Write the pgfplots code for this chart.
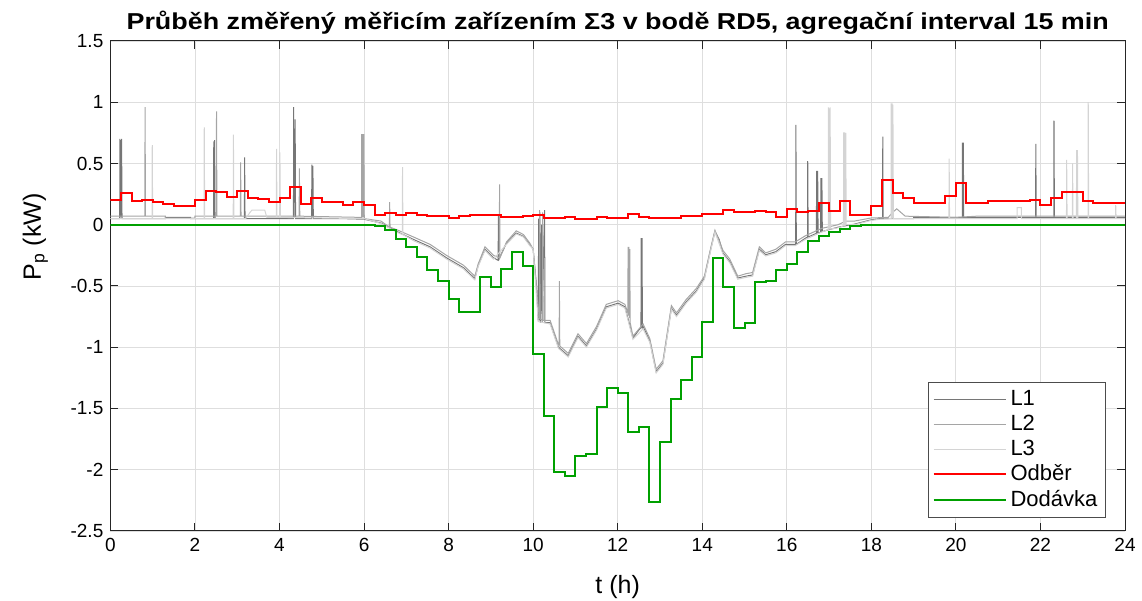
\documentclass[border=0pt]{standalone}
\usepackage{fontspec}
\setmainfont{Liberation Sans}
\usepackage{graphicx}
\usepackage{pgfplots}
\pgfplotsset{compat=1.18}
\definecolor{odber}{RGB}{255,0,0}
\definecolor{dodavka}{RGB}{0,160,0}
\definecolor{lone}{RGB}{118,118,118}
\definecolor{ltwo}{RGB}{165,165,165}
\definecolor{lthree}{RGB}{212,212,212}

\begin{document}
\begin{tikzpicture}
\begin{axis}[name=ax,
 scale only axis,width=507.3pt,height=245pt,
 xmin=0,xmax=24,ymin=-2.5,ymax=1.5,
 xtick={0,2,4,6,8,10,12,14,16,18,20,22,24},
 ytick={-2.5,-2,-1.5,-1,-0.5,0,0.5,1,1.5},
 grid=major,major grid style={black!13,line width=0.45pt},
 axis line style={black!85,line width=0.5pt},
 tick style={black!85,line width=0.5pt},major tick length=4pt,tick align=inside,
 ticklabel style={font=\fontsize{9.5}{11}\selectfont},
 /pgf/number format/assume math mode=true,
 title={\scalebox{1.17}[1]{\bfseries Průběh změřený měřicím zařízením Σ3 v bodě RD5, agregační interval 15 min}},
 title style={font=\fontsize{11.5}{13}\selectfont,at={(axis description cs:0.5,1)},anchor=base,yshift=-0.5pt},
 xlabel={t (h)},
 xlabel style={font=\fontsize{12.5}{14}\selectfont,at={(axis description cs:0.5,-0.115)},anchor=center},
 ylabel={P\textsubscript{p} (kW)},
 ylabel style={font=\fontsize{12.5}{14}\selectfont,at={(axis description cs:-0.074,0.6)},anchor=center},
 legend style={at={(0.981,0.027)},anchor=south east,draw=black!70,fill=white,
   font=\fontsize{11}{13}\selectfont,inner sep=2pt,row sep=-0.8pt},
 legend cell align=left,
 legend image code/.code={\draw[#1] (0pt,0pt) -- (36pt,0pt);},
]
% L1
\addplot[lone,line width=0.5pt] coordinates {
(0,0.05) (0.22,0.05) (0.225,0.70) (0.235,0.06) (0.245,0.69) (0.255,0.06) (0.265,0.70) (0.275,0.05)
(1.3,0.05) (1.3,0.06) (1.9,0.06) (1.9,0.05) (2.44,0.05) (2.445,0.68) (2.455,0.06) (2.465,0.69) (2.475,0.05)
(3.17,0.05) (3.175,0.55) (3.185,0.05) (4.33,0.05) (4.335,0.96) (4.345,0.06) (4.37,0.86) (4.38,0.05)
(4.76,0.05) (4.765,0.49) (4.775,0.06) (4.79,0.48) (4.80,0.05) (5.5,0.05) (6.0,0.045) (6.4,0.014)
(6.77,-0.054) (7.17,-0.12) (7.56,-0.18) (7.95,-0.27) (8.35,-0.35) (8.62,-0.44) (8.7,-0.33) (8.86,-0.20)
(9.06,-0.27) (9.17,-0.29) (9.18,0.08) (9.19,-0.28) (9.37,-0.15) (9.6,-0.068) (9.77,-0.095) (9.92,-0.163)
(10.0,-0.2) (10.08,-0.5) (10.12,-0.78) (10.13,0.05) (10.14,-0.78) (10.16,0.1) (10.17,-0.8) (10.2,0.0)
(10.21,-0.8) (10.27,0.12) (10.28,-0.8) (10.4,-0.80) (10.6,-1.0) (10.83,-1.07) (11.06,-0.91) (11.26,-0.99)
(11.5,-0.85) (11.73,-0.67) (12.01,-0.64) (12.17,-0.67) (12.27,-0.80) (12.36,-0.925) (12.5,-0.86)
(12.55,-0.84) (12.555,-0.11) (12.565,-0.84) (12.575,-0.11) (12.585,-0.84) (12.6,-0.83) (12.76,-0.95)
(12.91,-1.20) (13.07,-1.13) (13.27,-0.68) (13.39,-0.74) (13.62,-0.63) (13.86,-0.54) (14.05,-0.435)
(14.2,-0.2) (14.3,-0.054) (14.4,-0.12) (14.49,-0.23) (14.65,-0.30) (14.84,-0.435) (15.03,-0.42)
(15.19,-0.41) (15.35,-0.20) (15.5,-0.245) (15.74,-0.22) (15.97,-0.16) (16.21,-0.16) (16.215,0.816)
(16.225,-0.16) (16.44,-0.11) (16.49,-0.1) (16.495,0.52) (16.505,-0.1) (16.7,-0.07) (16.705,0.44)
(16.715,-0.07) (16.73,0.44) (16.74,-0.07) (16.8,-0.06) (16.805,0.38) (16.815,-0.06) (16.83,0.38)
(16.84,-0.055) (17.21,-0.02) (17.6,0.005) (17.99,0.04) (18.2,0.05) (18.265,0.05) (18.27,0.72) (18.28,0.05)
(19.0,0.05) (19.0,0.06) (20.15,0.06) (20.155,0.67) (20.165,0.06) (20.175,0.67) (20.185,0.06)
(21.885,0.06) (21.89,0.66) (21.9,0.06) (22.315,0.06) (22.32,0.85) (22.33,0.06) (24,0.06)};
\addlegendentry{L1}
% L2
\addplot[ltwo,line width=0.5pt] coordinates {
(0,0.07) (0.815,0.07) (0.82,0.96) (0.83,0.07) (1.3,0.07) (1.3,0.055) (2.0,0.055) (2.0,0.07)
(2.505,0.07) (2.51,0.925) (2.52,0.07) (3.075,0.07) (3.08,0.51) (3.09,0.07) (4.465,0.07) (4.47,0.46)
(4.48,0.07) (5.94,0.06) (5.945,0.74) (5.955,0.06) (5.97,0.74) (5.98,0.06) (5.995,0.74) (6.005,0.05)
(6.4,0.03) (6.6,-0.02) (6.605,0.185) (6.615,-0.02) (6.77,-0.04) (7.17,-0.10) (7.56,-0.16) (7.95,-0.25)
(8.35,-0.33) (8.62,-0.42) (8.7,-0.32) (8.86,-0.18) (9.06,-0.25) (9.2,-0.27) (9.205,0.33) (9.215,-0.27)
(9.37,-0.14) (9.6,-0.05) (9.77,-0.08) (9.92,-0.15) (10.0,-0.2) (10.1,-0.6) (10.15,-0.77) (10.155,0.12)
(10.165,-0.77) (10.22,-0.78) (10.225,0.1) (10.235,-0.78) (10.4,-0.78) (10.6,-0.98) (10.615,-0.98)
(10.62,-0.46) (10.63,-0.99) (10.83,-1.05) (11.06,-0.89) (11.26,-0.97) (11.5,-0.83) (11.73,-0.65)
(12.01,-0.62) (12.17,-0.65) (12.24,-0.72) (12.245,-0.18) (12.255,-0.74) (12.265,-0.18) (12.275,-0.76)
(12.285,-0.2) (12.295,-0.8) (12.36,-0.91) (12.6,-0.81) (12.76,-0.93) (12.91,-1.18) (13.07,-1.11)
(13.27,-0.66) (13.39,-0.72) (13.62,-0.61) (13.86,-0.52) (14.05,-0.42) (14.2,-0.19) (14.3,-0.045)
(14.49,-0.21) (14.65,-0.28) (14.84,-0.42) (15.03,-0.40) (15.19,-0.39) (15.35,-0.18) (15.5,-0.23)
(15.74,-0.20) (15.97,-0.14) (16.2,-0.14) (16.44,-0.09) (16.82,-0.03) (17.21,0.0) (17.4,0.03) (17.6,0.03)
(17.99,0.055) (18.4,0.06) (18.5,0.1) (18.6,0.13) (18.7,0.1) (18.8,0.07) (20,0.06) (20.5,0.07) (24,0.07)};
\addlegendentry{L2}
% L3
\addplot[lthree,line width=0.5pt] coordinates {
(0,0.05) (0.985,0.05) (0.99,0.65) (1.0,0.05) (2.215,0.05) (2.22,0.795) (2.23,0.05) (2.905,0.05)
(2.91,0.735) (2.92,0.05) (3.2,0.05) (3.3,0.1) (3.35,0.12) (3.65,0.12) (3.7,0.06) (3.925,0.06) (3.93,0.62)
(3.94,0.06) (4.005,0.06) (4.01,0.59) (4.02,0.06) (6.0,0.05) (6.4,0.01) (6.77,-0.06) (6.905,-0.08)
(6.91,0.47) (6.92,-0.08) (7.17,-0.13) (7.56,-0.19) (7.95,-0.28) (8.35,-0.36) (8.62,-0.45) (8.7,-0.34)
(8.86,-0.21) (9.06,-0.28) (9.37,-0.16) (9.6,-0.075) (9.77,-0.10) (9.92,-0.17) (10.0,-0.2) (10.12,-0.79)
(10.4,-0.81) (10.6,-1.01) (10.83,-1.08) (11.06,-0.92) (11.26,-1.0) (11.5,-0.86) (11.73,-0.68)
(12.01,-0.65) (12.17,-0.68) (12.36,-0.935) (12.6,-0.85) (12.76,-0.96) (12.91,-1.21) (13.07,-1.14)
(13.27,-0.69) (13.39,-0.75) (13.62,-0.64) (13.86,-0.55) (14.05,-0.445) (14.2,-0.21) (14.3,-0.06)
(14.49,-0.24) (14.65,-0.31) (14.84,-0.445) (15.03,-0.43) (15.19,-0.42) (15.35,-0.21) (15.5,-0.255)
(15.74,-0.23) (15.97,-0.17) (16.2,-0.17) (16.44,-0.12) (16.82,-0.06) (16.98,-0.04) (16.985,0.958)
(16.995,-0.04) (17.005,0.95) (17.015,-0.04) (17.025,0.958) (17.035,-0.035) (17.21,-0.025) (17.34,-0.01)
(17.345,0.754) (17.355,-0.01) (17.37,0.754) (17.38,-0.01) (17.395,0.75) (17.405,0.0) (17.6,0.0)
(17.99,0.035) (18.2,0.045) (18.465,0.05) (18.47,0.99) (18.48,0.05) (18.49,0.99) (18.5,0.05) (18.51,0.98)
(18.52,0.05) (19.835,0.05) (19.84,0.54) (19.85,0.05) (21.45,0.05) (21.45,0.14) (21.55,0.14) (21.55,0.05)
(22.615,0.05) (22.62,0.53) (22.63,0.05) (22.755,0.05) (22.76,0.50) (22.77,0.05) (22.85,0.05) (22.855,0.61)
(22.865,0.05) (22.875,0.61) (22.885,0.05) (23.125,0.05) (23.13,1.0) (23.14,0.05) (23.775,0.05)
(23.78,0.16) (23.79,0.05) (24,0.05)};
\addlegendentry{L3}
% Odber
\addplot[odber,line width=1pt,const plot] coordinates {
(0,0.199) (0.25,0.259) (0.5,0.19) (0.75,0.204) (1.0,0.185) (1.25,0.171) (1.5,0.153) (2.0,0.199)
(2.25,0.278) (2.5,0.264) (2.75,0.223) (3.0,0.278) (3.25,0.218) (3.5,0.212) (3.75,0.183) (4.0,0.218)
(4.25,0.31) (4.5,0.171) (4.75,0.218) (5.0,0.183) (5.25,0.183) (5.5,0.16) (5.75,0.183) (6.0,0.16)
(6.25,0.077) (6.5,0.095) (6.75,0.082) (7.0,0.092) (7.25,0.082) (7.5,0.074) (7.75,0.074) (8.0,0.055)
(8.25,0.068) (8.5,0.082) (8.75,0.082) (9.0,0.077) (9.25,0.06) (9.5,0.06) (9.75,0.074) (10.0,0.077)
(10.25,0.055) (10.5,0.055) (10.75,0.06) (11.0,0.05) (11.25,0.05) (11.5,0.06) (11.75,0.055) (12.0,0.055)
(12.25,0.088) (12.5,0.06) (12.75,0.055) (13.0,0.055) (13.25,0.055) (13.5,0.068) (13.75,0.068)
(14.0,0.088) (14.25,0.088) (14.5,0.122) (14.75,0.103) (15.0,0.103) (15.25,0.11) (15.5,0.1) (15.75,0.063)
(16.0,0.125) (16.25,0.103) (16.5,0.114) (16.75,0.177) (17.0,0.11) (17.25,0.196) (17.5,0.077)
(17.75,0.077) (18.0,0.155) (18.25,0.367) (18.5,0.259) (18.75,0.218) (19.0,0.177) (19.25,0.177)
(19.5,0.177) (19.75,0.232) (20.0,0.34) (20.25,0.18) (20.5,0.18) (20.75,0.19) (21.0,0.19) (21.25,0.19)
(21.5,0.19) (21.75,0.20) (22.0,0.16) (22.25,0.218) (22.5,0.264) (22.75,0.264) (23.0,0.196) (23.25,0.18)
(24,0.18)};
\addlegendentry{Odběr}
% Dodavka
\addplot[dodavka,line width=1pt,const plot] coordinates {
(0,0) (6.25,-0.014) (6.5,-0.046) (6.75,-0.12) (7.0,-0.185) (7.25,-0.26) (7.5,-0.37) (7.75,-0.46)
(8.0,-0.61) (8.25,-0.715) (8.5,-0.715) (8.75,-0.43) (9.0,-0.51) (9.25,-0.36) (9.5,-0.226) (9.75,-0.34)
(10.0,-1.055) (10.25,-1.565) (10.5,-2.02) (10.75,-2.05) (11.0,-1.885) (11.25,-1.87) (11.5,-1.49)
(11.75,-1.33) (12.0,-1.375) (12.25,-1.695) (12.5,-1.655) (12.75,-2.26) (13.0,-1.77) (13.25,-1.42)
(13.5,-1.27) (13.75,-1.08) (14.0,-0.79) (14.25,-0.27) (14.5,-0.51) (14.75,-0.84) (15.0,-0.80)
(15.25,-0.47) (15.5,-0.46) (15.75,-0.37) (16.0,-0.32) (16.25,-0.22) (16.5,-0.13) (16.75,-0.095)
(17.0,-0.06) (17.25,-0.033) (17.5,-0.014) (17.75,0) (24,0)};
\addlegendentry{Dodávka}
\end{axis}
\pgfresetboundingbox
\path[use as bounding box] ([shift={(-55.2pt,-35pt)}]ax.south west) rectangle ([shift={(8.5pt,20.5pt)}]ax.north east);
\end{tikzpicture}
\end{document}
